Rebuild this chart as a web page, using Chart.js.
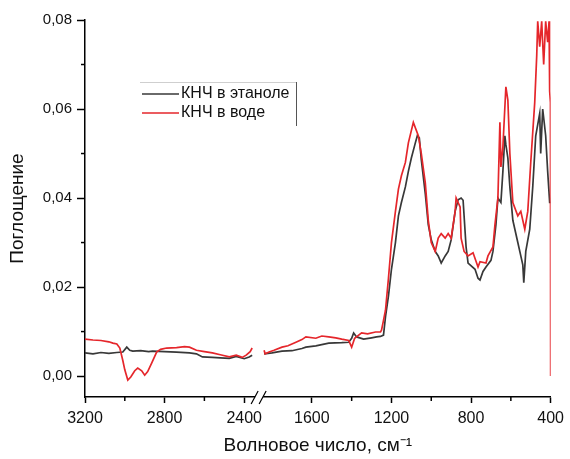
<!DOCTYPE html>
<html>
<head>
<meta charset="utf-8">
<script src="https://cdn.jsdelivr.net/npm/chart.js@4.4.0/dist/chart.umd.min.js"></script>
<style>
html, body { margin: 0; padding: 0; background: #fff; }
#wrap { width: 570px; height: 459px; }
</style>
</head>
<body>
<div id="wrap"><canvas id="irChart" width="570" height="459"></canvas></div>
<script>
// wavenumbers (cm-1) and absorbance, null = axis break
const ethanolWn = [
3200, 3160, 3120, 3080, 3040, 3010, 2990, 2975, 2960, 2920, 2880, 2860, 2800, 2740, 2675, 2640, 2610, 2560, 2520, 2475, 2440, 2400, 2375, 2360,
null,
1840, 1800, 1750, 1700, 1650, 1630, 1580, 1515, 1450, 1415, 1400, 1390, 1375, 1340, 1300, 1275, 1255, 1240,
1230, 1215, 1200, 1180, 1165, 1150, 1130, 1115, 1100, 1080, 1070, 1060, 1050, 1030, 1015, 1000, 980, 965, 950, 930, 915, 900,
880, 865, 850, 840, 825, 815, 780, 765, 755, 740, 725, 700, 690, 675, 665, 650, 640, 630, 625, 615, 605, 590,
565, 550, 540, 535, 525, 505, 490, 475, 455, 450, 440, 425, 415, 405, 400
];
const ethanolAbs = [
0.0052, 0.0050, 0.0053, 0.0051, 0.0053, 0.0054, 0.0065, 0.0058, 0.0056, 0.0057, 0.0055, 0.0056, 0.0055, 0.0054, 0.0052, 0.0050, 0.0043, 0.0042, 0.0041, 0.0040, 0.0044, 0.0039, 0.0043, 0.0047,
null,
0.0050, 0.0052, 0.0056, 0.0057, 0.0062, 0.0065, 0.0068, 0.0074, 0.0075, 0.0076, 0.0085, 0.0097, 0.0088, 0.0083, 0.0086, 0.0088, 0.0089, 0.0092,
0.0133, 0.018, 0.024, 0.030, 0.036, 0.039, 0.0425, 0.046, 0.049, 0.0524, 0.054, 0.0535, 0.0486, 0.041, 0.034, 0.0306, 0.028, 0.027, 0.0254, 0.027, 0.028, 0.0306,
0.037, 0.0396, 0.040, 0.0395, 0.029, 0.0254, 0.024, 0.022, 0.0216, 0.0235, 0.0245, 0.026, 0.028, 0.034, 0.040, 0.039, 0.046, 0.054, 0.052, 0.049, 0.0425, 0.035,
0.030, 0.027, 0.025, 0.021, 0.028, 0.033, 0.0425, 0.054, 0.059, 0.050, 0.060, 0.054, 0.046, 0.039, 0.039
];

const waterWn = [
3200, 3160, 3120, 3080, 3060, 3040, 3025, 3010, 3000, 2985, 2970, 2950, 2935, 2915, 2900, 2885, 2865, 2840, 2820, 2790, 2740, 2700, 2675, 2640, 2600, 2560, 2520, 2475, 2440, 2410, 2390, 2370, 2360,
null,
1840, 1835, 1815, 1790, 1750, 1720, 1680, 1650, 1630, 1580, 1550, 1515, 1480, 1450, 1415, 1400, 1385, 1350, 1320, 1280, 1255, 1250, 1240,
1230, 1215, 1200, 1180, 1165, 1150, 1130, 1115, 1090, 1065, 1050, 1030, 1015, 1000, 980, 965, 950, 930, 915, 900,
880, 875, 865, 855, 850, 835, 815, 790, 765, 755, 725, 715, 690, 680, 665, 655, 650, 640, 625, 615, 605, 590,
565, 550, 530, 515, 500, 480, 470, 465, 455, 445, 435, 425, 415, 408, 405, 401, 400
];
const waterAbs = [
0.0083, 0.0081, 0.0080, 0.0077, 0.0074, 0.0072, 0.0063, 0.0035, 0.0014, -0.0009, -0.0002, 0.0012, 0.0018, 0.0012, 0.0002, 0.0010, 0.0029, 0.0054, 0.0060, 0.0063, 0.0064, 0.0066, 0.0065, 0.0058, 0.0055, 0.0052, 0.0048, 0.0043, 0.0047, 0.0042, 0.0047, 0.0055, 0.0063,
null,
0.0058, 0.0050, 0.0054, 0.0058, 0.0065, 0.0068, 0.0076, 0.0082, 0.0088, 0.0085, 0.0090, 0.0088, 0.0086, 0.0083, 0.0080, 0.0065, 0.0085, 0.0097, 0.0095, 0.0099, 0.0099, 0.0103, 0.0125,
0.0148, 0.022, 0.030, 0.037, 0.042, 0.045, 0.048, 0.0524, 0.057, 0.054, 0.050, 0.0434, 0.035, 0.030, 0.028, 0.031, 0.032, 0.031, 0.032, 0.031,
0.037, 0.040, 0.039, 0.038, 0.031, 0.028, 0.027, 0.0277, 0.0245, 0.0257, 0.0254, 0.027, 0.029, 0.034, 0.040, 0.057, 0.047, 0.0515, 0.065, 0.062, 0.050, 0.039,
0.036, 0.037, 0.033, 0.037, 0.048, 0.0615, 0.072, 0.0797, 0.074, 0.0797, 0.070, 0.0797, 0.075, 0.0797, 0.064, 0.0615, 0.0
];

const xTicks = [3200, 2800, 2400, 1600, 1200, 800, 400];
const xMinor = [3000, 2600, 1400, 1000, 600];
const yTicks = [0, 0.02, 0.04, 0.06, 0.08];
const yMinor = [0.01, 0.03, 0.05, 0.07];

// broken axis: 3200..2325 then 1865..400
const BREAK_HI = 2325;
const BREAK_LO = 1865;
const LEFT_SPAN = 3200 - BREAK_HI;

function toAxis(w){
    return w >= BREAK_HI ? 3200 - w : LEFT_SPAN + BREAK_LO - w;
}
function fromAxis(d){
    return d < LEFT_SPAN ? 3200 - d : LEFT_SPAN + BREAK_LO - d;
}
function points(wn, abs){
    return wn.map(function(w, i){
        if(w === null) return {x: LEFT_SPAN, y: null};
        return {x: toAxis(w), y: abs[i]};
    });
}

const extras = {
    id: "extras",
    afterDraw: function(chart){
        const ctx = chart.ctx;
        const xs = chart.scales.x;
        const ys = chart.scales.y;
        const area = chart.chartArea;
        ctx.save();
        ctx.strokeStyle = "#000";
        ctx.lineWidth = 1.5;
        // minor ticks
        xMinor.forEach(function(w){
            const px = xs.getPixelForValue(toAxis(w));
            ctx.beginPath(); ctx.moveTo(px, area.bottom); ctx.lineTo(px, area.bottom + 4); ctx.stroke();
        });
        yMinor.forEach(function(v){
            const py = ys.getPixelForValue(v);
            ctx.beginPath(); ctx.moveTo(area.left - 4, py); ctx.lineTo(area.left, py); ctx.stroke();
        });
        // axis break
        const bx = xs.getPixelForValue(LEFT_SPAN);
        const by = area.bottom;
        ctx.fillStyle = "#fff";
        ctx.fillRect(bx - 4, by - 3, 8, 6);
        ctx.lineWidth = 1.2;
        ctx.beginPath();
        ctx.moveTo(bx - 8, by + 7); ctx.lineTo(bx - 1, by - 6);
        ctx.moveTo(bx, by + 7); ctx.lineTo(bx + 7, by - 6);
        ctx.stroke();
        // legend
        ctx.lineWidth = 1;
        ctx.strokeStyle = "#cfcfcf";
        ctx.beginPath(); ctx.moveTo(140, 82.5); ctx.lineTo(296, 82.5); ctx.stroke();
        ctx.strokeStyle = "#555";
        ctx.beginPath(); ctx.moveTo(296.5, 82); ctx.lineTo(296.5, 126); ctx.stroke();
        ctx.font = "16px 'Liberation Sans', Arial, sans-serif";
        ctx.textBaseline = "middle";
        ctx.fillStyle = "#111";
        const rows = [chart.data.datasets[1], chart.data.datasets[0]];
        rows.forEach(function(ds, i){
            const ly = 94 + i * 19;
            ctx.strokeStyle = ds.borderColor;
            ctx.lineWidth = 1.5;
            ctx.beginPath(); ctx.moveTo(142, ly); ctx.lineTo(179, ly); ctx.stroke();
            ctx.fillText(ds.label, 181, ly);
        });
        ctx.restore();
    }
};

document.addEventListener("DOMContentLoaded", function(){

const canvas = document.getElementById("irChart");

new Chart(canvas, {
    type: "line",
    data: {
        datasets: [
            {
                label: "КНЧ в воде",
                data: points(waterWn, waterAbs),
                borderColor: "#e5262b",
                borderWidth: 1.7,
                pointRadius: 0,
                tension: 0,
                spanGaps: false,
                order: 0
            },
            {
                label: "КНЧ в этаноле",
                data: points(ethanolWn, ethanolAbs),
                borderColor: "#383838",
                borderWidth: 1.7,
                pointRadius: 0,
                tension: 0,
                spanGaps: false,
                order: 1
            }
        ]
    },
    options: {
        responsive: false,
        animation: false,
        layout: { padding: { top: 20, right: 17, left: 0, bottom: 0 } },
        plugins: {
            legend: { display: false },
            tooltip: { enabled: false }
        },
        scales: {
            x: {
                type: "linear",
                min: 0,
                max: toAxis(400),
                afterFit: function(scale){ scale.height = 62; },
                afterBuildTicks: function(scale){
                    scale.ticks = xTicks.map(function(w){ return {value: toAxis(w)}; });
                },
                ticks: {
                    autoSkip: false,
                    maxRotation: 0,
                    padding: 6,
                    color: "#111",
                    font: { family: "'Liberation Sans', Arial, sans-serif", size: 16 },
                    callback: function(value){ return String(Math.round(fromAxis(value))); }
                },
                grid: { drawOnChartArea: false, tickLength: 6, tickColor: "#000", tickWidth: 1.5 },
                border: { display: true, color: "#000", width: 1.5 },
                title: {
                    display: true,
                    text: "Волновое число, см⁻¹",
                    color: "#111",
                    padding: { top: 0, bottom: 2 },
                    font: { family: "'Liberation Sans', Arial, sans-serif", size: 19 }
                }
            },
            y: {
                min: -0.0047,
                max: 0.08,
                afterFit: function(scale){ scale.width = 85; },
                afterBuildTicks: function(scale){
                    scale.ticks = yTicks.map(function(v){ return {value: v}; });
                },
                ticks: {
                    padding: 5,
                    color: "#111",
                    font: { family: "'Liberation Sans', Arial, sans-serif", size: 15 },
                    callback: function(value){ return value.toFixed(2).replace(".", ","); }
                },
                grid: { drawOnChartArea: false, tickLength: 8, tickColor: "#000", tickWidth: 1.5 },
                border: { display: true, color: "#000", width: 1.5 },
                title: {
                    display: true,
                    text: "Поглощение",
                    color: "#111",
                    padding: { top: 6, bottom: 0 },
                    font: { family: "'Liberation Sans', Arial, sans-serif", size: 19 }
                }
            }
        }
    },
    plugins: [extras]
});

});
</script>
</body>
</html>
